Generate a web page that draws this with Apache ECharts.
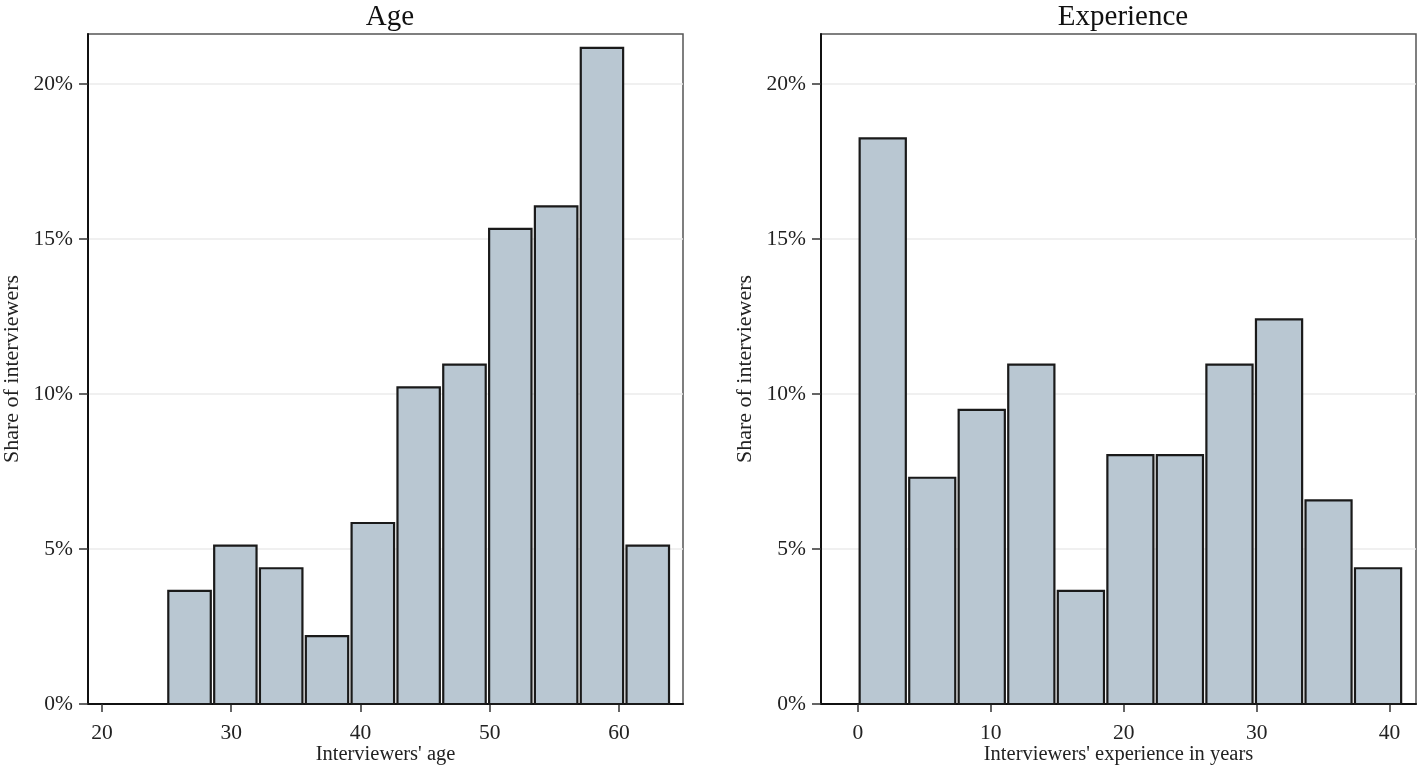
<!DOCTYPE html>
<html>
<head>
<meta charset="utf-8">
<script src="https://cdn.jsdelivr.net/npm/echarts@6/dist/echarts.min.js"></script>
<style>
html,body{margin:0;padding:0;background:#fff;}
#chart{width:1420px;height:770px;}
</style>
</head>
<body>
<div id="chart"></div>
<script>
// ---- data ----
const panelTitles = ['Age', 'Experience'];
const xNames = ["Interviewers' age", "Interviewers' experience in years"];
const yName = 'Share of interviewers';

const ageEdges = [25, 28.55, 32.09, 35.64, 39.18, 42.73, 46.27, 49.82, 53.36, 56.91, 60.45, 64];
const ageShare = [3.65, 5.11, 4.38, 2.19, 5.84, 10.22, 10.95, 15.33, 16.06, 21.17, 5.11];

const expEdges = [0, 3.73, 7.45, 11.18, 14.91, 18.64, 22.36, 26.09, 29.82, 33.55, 37.27, 41];
const expShare = [18.25, 7.30, 9.49, 10.95, 3.65, 8.03, 8.03, 10.95, 12.41, 6.57, 4.38];

const ageTicks = [20, 30, 40, 50, 60];
const expTicks = [0, 10, 20, 30, 40];
const yTicks = [0, 5, 10, 15, 20];

// ---- build ----
function rows(edges, vals) {
  return vals.map((v, i) => [edges[i], edges[i + 1], v]);
}
const FONT = '"Liberation Serif", "Times New Roman", serif';
const FILL = '#b9c7d2';
const STROKE = '#1a1a1a';
const GAP = 1.7;

function renderBar(params, api) {
  const x0 = api.value(0), x1 = api.value(1), v = api.value(2);
  const p0 = api.coord([x0, 0]);
  const p1 = api.coord([x1, v]);
  return {
    type: 'rect',
    shape: { x: p0[0] + GAP, y: p1[1], width: p1[0] - p0[0] - 2 * GAP, height: p0[1] - p1[1] },
    style: { fill: FILL, stroke: STROKE, lineWidth: 2.2 }
  };
}

const grids = [
  { left: 88, right: 737, top: 34, bottom: 66 },
  { left: 821, right: 4, top: 34, bottom: 66 }
].map(g => Object.assign(g, { show: true, borderColor: '#555', borderWidth: 1.5, backgroundColor: '#fff',
  containLabel: false, outerBoundsMode: 'none' }));

function xAxis(idx, min, max, ticks) {
  return {
    type: 'value', gridIndex: idx, min: min, max: max,
    name: xNames[idx], nameLocation: 'middle', nameGap: 40, nameMoveOverlap: false,
    nameTextStyle: { fontFamily: FONT, fontSize: 20.5, color: '#222' },
    axisLine: { show: true, onZero: false, lineStyle: { color: '#111', width: 2 } },
    axisTick: { show: true, length: 8, customValues: ticks, lineStyle: { color: '#333', width: 1.5 } },
    axisLabel: { customValues: ticks, margin: 18, fontFamily: FONT, fontSize: 21.5, color: '#222' },
    splitLine: { show: false }
  };
}
function yAxis(idx) {
  return {
    type: 'value', gridIndex: idx, min: 0, max: 21.62,
    name: yName, nameLocation: 'middle', nameGap: 65, nameRotate: 90, nameMoveOverlap: false,
    nameTextStyle: { fontFamily: FONT, fontSize: 22, color: '#222' },
    axisLine: { show: true, onZero: false, lineStyle: { color: '#111', width: 2 } },
    axisTick: { show: true, length: 9, customValues: yTicks, lineStyle: { color: '#333', width: 1.5 } },
    axisLabel: { customValues: yTicks, margin: 15, fontFamily: FONT, fontSize: 21.5, color: '#222', formatter: '{value}%' },
    splitLine: { show: true, lineStyle: { color: '#ebebeb', width: 1.5 } }
  };
}

const option = {
  backgroundColor: '#fff',
  animation: false,
  title: [
    { text: panelTitles[0], left: 385, top: -2, textAlign: 'center',
      textStyle: { fontFamily: FONT, fontSize: 29, fontWeight: 'normal', color: '#111' } },
    { text: panelTitles[1], left: 1118, top: -2, textAlign: 'center',
      textStyle: { fontFamily: FONT, fontSize: 29, fontWeight: 'normal', color: '#111' } }
  ],
  grid: grids,
  xAxis: [xAxis(0, 18.92, 64.95, ageTicks), xAxis(1, -2.78, 41.99, expTicks)],
  yAxis: [yAxis(0), yAxis(1)],
  series: [
    { type: 'custom', xAxisIndex: 0, yAxisIndex: 0, renderItem: renderBar,
      encode: { x: [0, 1], y: 2 }, data: rows(ageEdges, ageShare) },
    { type: 'custom', xAxisIndex: 1, yAxisIndex: 1, renderItem: renderBar,
      encode: { x: [0, 1], y: 2 }, data: rows(expEdges, expShare) }
  ]
};
const chart = echarts.init(document.getElementById('chart'), null, { renderer: 'canvas' });
chart.setOption(option);
</script>
</body>
</html>
